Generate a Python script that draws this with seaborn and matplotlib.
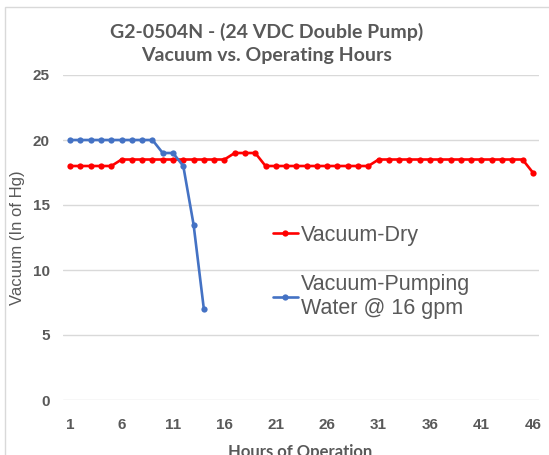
import pandas as pd
import matplotlib.pyplot as plt
import seaborn as sns
from matplotlib.patches import Rectangle

# Hours of operation
hours_dry = list(range(1, 47))
hours_water = list(range(1, 15))

# Vacuum readings (in of Hg)
vacuum_dry = [18, 18, 18, 18, 18, 18.5, 18.5, 18.5, 18.5, 18.5,
              18.5, 18.5, 18.5, 18.5, 18.5, 18.5, 19, 19, 19, 18,
              18, 18, 18, 18, 18, 18, 18, 18, 18, 18,
              18.5, 18.5, 18.5, 18.5, 18.5, 18.5, 18.5, 18.5, 18.5, 18.5,
              18.5, 18.5, 18.5, 18.5, 18.5, 17.5]
vacuum_water = [20, 20, 20, 20, 20, 20, 20, 20, 20, 19, 19, 18, 13.5, 7]

label_dry = "Vacuum-Dry"
label_water = "Vacuum-Pumping\nWater @ 16 gpm"
x_ticks = [1, 6, 11, 16, 21, 26, 31, 36, 41, 46]
y_ticks = [0, 5, 10, 15, 20, 25]

title = "G2-0504N - (24 VDC Double Pump)\nVacuum vs. Operating Hours"

df = pd.concat([
    pd.DataFrame({"hour": hours_dry, "vacuum": vacuum_dry, "series": label_dry}),
    pd.DataFrame({"hour": hours_water, "vacuum": vacuum_water, "series": label_water}),
])

sns.set_style("white")
plt.rcParams["font.family"] = ["Liberation Sans", "DejaVu Sans"]

gray = "#595959"
fig = plt.figure(figsize=(5.49, 4.55), dpi=100)
ax = fig.add_axes([63 / 549, 1 - 400 / 455, 476 / 549, 325 / 455])

sns.lineplot(data=df, x="hour", y="vacuum", hue="series",
             palette={label_dry: "#FF0000", label_water: "#4472C4"},
             marker="o", markersize=4.5, markeredgewidth=0, linewidth=1.9,
             ax=ax, zorder=3)

ax.set_xlim(0.3, 46.6)
ax.set_ylim(0, 25)
ax.set_xticks(x_ticks)
ax.set_yticks(y_ticks)
ax.grid(axis="y", color="#D9D9D9", linewidth=1)
ax.grid(axis="x", visible=False)
for s in ax.spines.values():
    s.set_visible(False)
ax.tick_params(axis="both", length=0, labelsize=11, labelcolor=gray)
ax.tick_params(axis="y", pad=9.5)
ax.tick_params(axis="x", pad=13)
for lab in ax.get_xticklabels() + ax.get_yticklabels():
    lab.set_fontweight("bold")

ax.set_xlabel("")
ax.set_ylabel("Vacuum (In of Hg)", fontsize=12, color=gray)
ax.yaxis.set_label_coords(-0.08, 0.5)

fig.text(300 / 549, 1 - 444 / 455, "Hours of Operation", ha="center", va="top",
         fontsize=12, fontweight="bold", color=gray, family=["Lato", "DejaVu Sans"])
fig.text(267 / 549, 1 - 23 / 455, title, ha="center", va="top", fontsize=14,
         fontweight="bold", color=gray, linespacing=1.43, family=["Lato", "DejaVu Sans"])

leg = ax.legend(loc="upper left", bbox_to_anchor=(0.441, 0.539), frameon=False,
                fontsize=15.5, handlelength=1.15, handletextpad=0.15,
                labelspacing=1.3, borderpad=0, borderaxespad=0)
for t in leg.get_texts():
    t.set_color(gray)

fig.patches.append(Rectangle((5 / 549, -0.1), 1.1, 1.1 - 7 / 455,
                             transform=fig.transFigure, fill=False,
                             edgecolor="#D9D9D9", linewidth=1))

fig.savefig("out.png", dpi=100)
